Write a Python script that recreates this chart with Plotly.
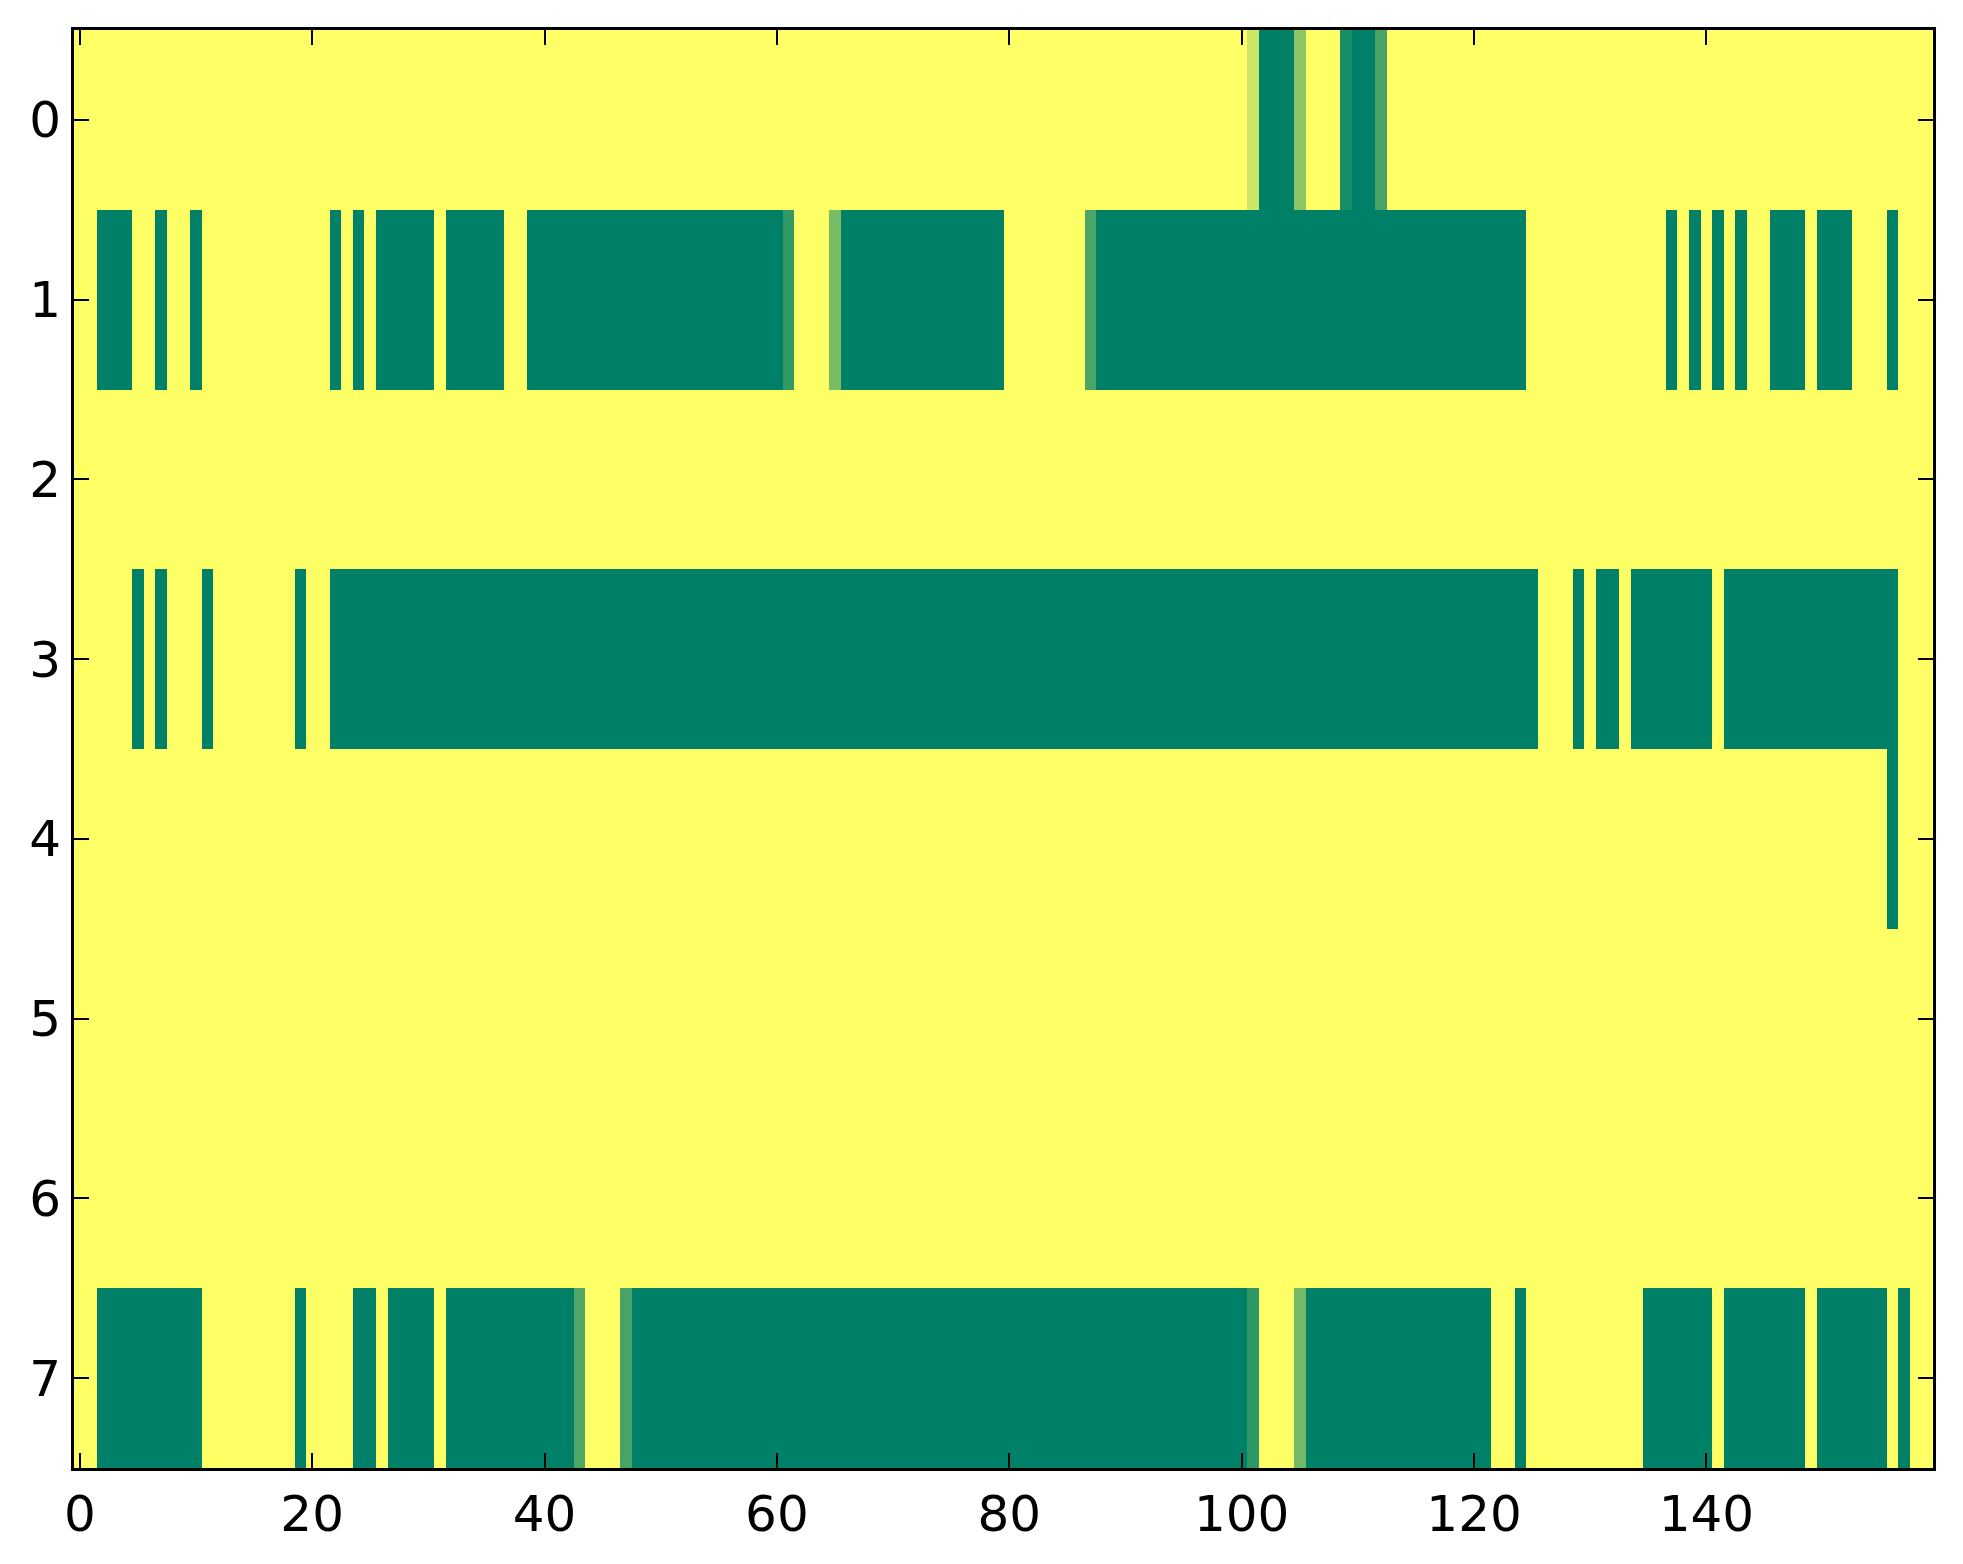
import plotly.graph_objects as go

# 8 rows x 160 columns, mostly 0/1 (yellow = 0, green = 1)
n_rows = 8
n_cols = 160

# green runs per row, (first col, last col) inclusive
runs_row0 = [(102, 104), (110, 111)]
runs_row1 = [(2, 4), (7, 7), (10, 10), (22, 22), (24, 24), (26, 30), (32, 36),
             (39, 60), (66, 79), (88, 124), (137, 137), (139, 139), (141, 141),
             (143, 143), (146, 148), (150, 152), (156, 156)]
runs_row2 = []
runs_row3 = [(5, 5), (7, 7), (11, 11), (19, 19), (22, 125), (129, 129),
             (131, 132), (134, 140), (142, 156)]
runs_row4 = [(156, 156)]
runs_row5 = []
runs_row6 = []
runs_row7 = [(2, 10), (19, 19), (24, 25), (27, 30), (32, 42), (48, 100),
             (106, 121), (124, 124), (135, 140), (142, 148), (150, 155), (157, 157)]

# in-between cells (blended edges in the picture): row -> {col: value}
partial_row0 = {101: 0.2, 105: 0.45, 109: 0.9, 112: 0.72}
partial_row1 = {61: 0.8, 65: 0.53, 87: 0.71}
partial_row7 = {43: 0.69, 47: 0.72, 101: 0.82, 105: 0.55}

x_ticks = [0, 20, 40, 60, 80, 100, 120, 140]
y_ticks = [0, 1, 2, 3, 4, 5, 6, 7]

all_runs = [runs_row0, runs_row1, runs_row2, runs_row3,
            runs_row4, runs_row5, runs_row6, runs_row7]
all_partials = {0: partial_row0, 1: partial_row1, 7: partial_row7}

z = []
for r, runs in enumerate(all_runs):
    row = [0.0] * n_cols
    for a, b in runs:
        for c in range(a, b + 1):
            row[c] = 1.0
    for c, v in all_partials.get(r, {}).items():
        row[c] = v
    z.append(row)

fig = go.Figure(go.Heatmap(
    z=z,
    x=list(range(n_cols)),
    y=list(range(n_rows)),
    colorscale=[[0, '#ffff66'], [1, '#008066']],
    zmin=0, zmax=1,
    showscale=False,
    hoverinfo='skip',
))

axis_style = dict(
    showline=True, linecolor='black', linewidth=3, mirror='ticks',
    ticks='inside', ticklen=15, tickwidth=1.5, tickcolor='black',
    showgrid=False, zeroline=False,
    tickfont=dict(family='DejaVu Sans', size=50, color='black'),
)

fig.update_xaxes(range=[-0.5, n_cols - 0.5], tickvals=x_ticks, **axis_style)
fig.update_yaxes(range=[n_rows - 0.5, -0.5], tickvals=y_ticks, **axis_style)

fig.update_layout(
    width=1947, height=1548,
    margin=dict(l=66, r=22, t=22, b=88),
    paper_bgcolor='white', plot_bgcolor='white',
)

fig.write_html('out.html')
